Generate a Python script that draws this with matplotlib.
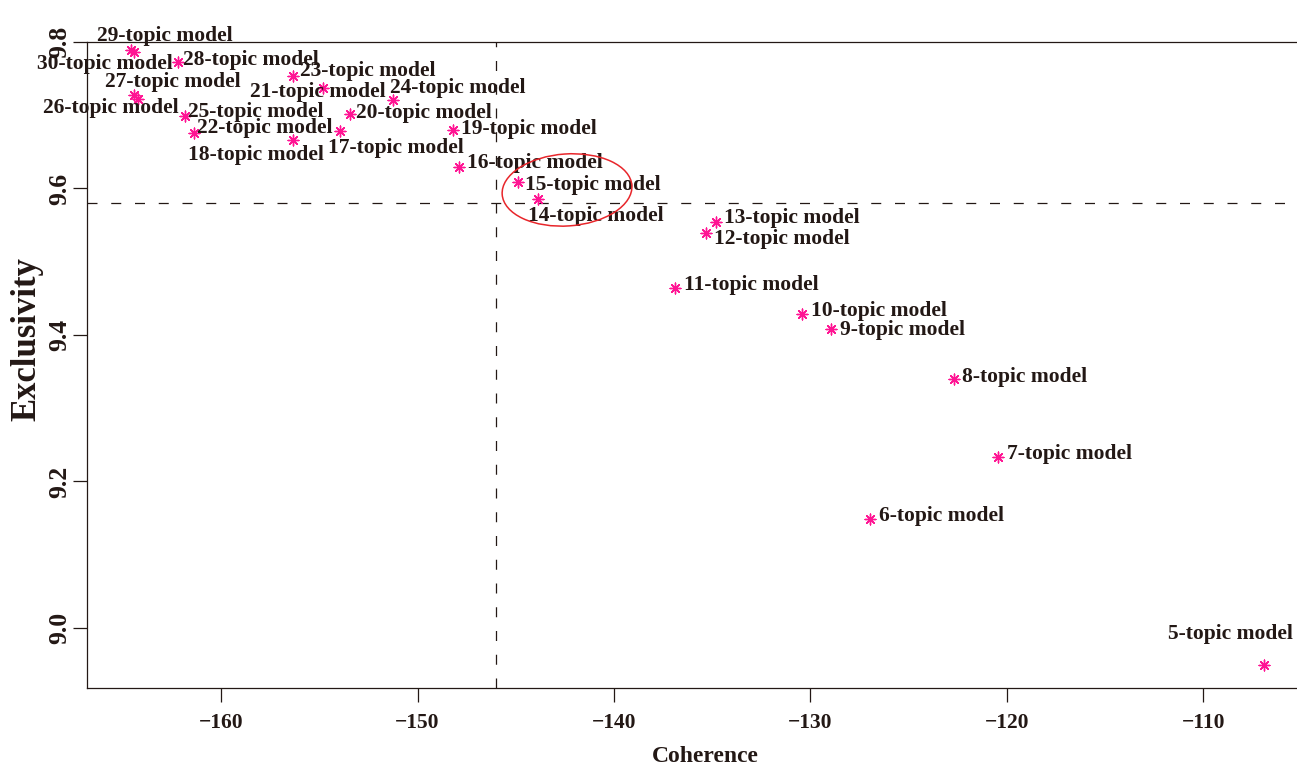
import matplotlib
matplotlib.use('Agg')
import matplotlib.pyplot as plt
import matplotlib.transforms as mtransforms
from matplotlib.patches import Ellipse

# 数据：主题数、语义一致性(Coherence)、排他性(Exclusivity)
topics = [5, 6, 7, 8, 9, 10, 11, 12, 13, 14, 15, 16, 17,
          18, 19, 20, 21, 22, 23, 24, 25, 26, 27, 28, 29, 30]
coherence = [-106.92, -126.97, -120.46, -122.70, -128.96, -130.43, -136.90,
             -135.32, -134.81, -143.87, -144.89, -147.89, -153.94, -156.34,
             -148.19, -153.44, -154.81, -161.37, -156.34, -151.25, -161.83,
             -164.22, -164.43, -162.19, -164.43, -164.58]
exclusivity = [8.9495, 9.149, 9.233, 9.340, 9.408, 9.429, 9.464, 9.539,
               9.554, 9.586, 9.609, 9.629, 9.678, 9.666, 9.680, 9.702,
               9.737, 9.676, 9.754, 9.721, 9.699, 9.722, 9.728, 9.773,
               9.786, 9.789]
x_ticks = [-160, -150, -140, -130, -120, -110]
y_ticks = [9.0, 9.2, 9.4, 9.6, 9.8]
h_cut = 9.58
v_cut = -146.0

# 标签相对点的偏移（像素，右/下为正）
label_offset = {
    5: (-96, -31), 6: (9, -3), 7: (9, -3), 8: (8, -2), 9: (9, 1),
    10: (9, -3), 11: (9, -3), 12: (8, 6), 13: (8, -4), 14: (-10, 17),
    15: (7, 3), 16: (8, -4), 17: (-12, 17), 18: (-105, 15), 19: (8, -1),
    20: (6, -1), 21: (-73, 4), 22: (3, -5), 23: (7, -5), 24: (-3, -12),
    25: (3, -4), 26: (-95, 9), 27: (-29, -13), 28: (5, -2), 29: (-37, -16),
    30: (-94, 14),
}

ink = '#231815'
plt.rcParams['font.family'] = ['Liberation Serif', 'DejaVu Serif']
plt.rcParams['font.weight'] = 'bold'

fig = plt.figure(figsize=(12.97, 7.69), dpi=100)
ax = fig.add_axes([87 / 1297, 1 - 688 / 769, 1 - 87 / 1297, (688 - 42) / 769])

ax.scatter(coherence, exclusivity, marker=(8, 2, 0), s=60, color='#FF1493',
           linewidths=1.0, zorder=3)

for t, cx, cy in zip(topics, coherence, exclusivity):
    dx, dy = label_offset[t]
    ax.annotate(f'{t}-topic model', xy=(cx, cy), xytext=(dx * 0.72, -dy * 0.72),
                textcoords='offset points', ha='left', va='center',
                fontsize=15.5, fontweight='bold', color=ink, zorder=4)

# 分割线
ax.axhline(h_cut, color=ink, lw=0.9, linestyle=(0, (8, 11)), zorder=1)
ax.axvline(v_cut, color=ink, lw=0.9, linestyle=(0, (8, 11)), zorder=1)

# 红色椭圆标注
trans = fig.dpi_scale_trans + mtransforms.ScaledTranslation(-142.39, 9.598, ax.transData)
ax.add_patch(Ellipse((0, 0), width=1.30, height=0.72, angle=4, transform=trans,
                     fill=False, edgecolor='#E8262B', lw=1.1, zorder=5))

ax.set_xlim(-166.82, -105.24)
ax.set_ylim(8.918, 9.8)
ax.set_xticks(x_ticks)
ax.set_xticklabels([f'\u2212{abs(v)}' for v in x_ticks])
ax.set_yticks(y_ticks)
ax.set_yticklabels([f'{v:.1f}' for v in y_ticks], rotation=90, va='center')

for side in ['left', 'bottom', 'top']:
    ax.spines[side].set_color(ink)
    ax.spines[side].set_linewidth(0.9)
ax.spines['right'].set_visible(False)

ax.tick_params(axis='x', length=10, width=0.9, color=ink, labelsize=15.5,
               labelcolor=ink, pad=8)
ax.tick_params(axis='y', length=10, width=0.9, color=ink, labelsize=18.5,
               labelcolor=ink, pad=1)

ax.set_xlabel('Coherence', fontsize=17, fontweight='bold', color=ink)
ax.set_ylabel('Exclusivity', fontsize=25, fontweight='bold', color=ink)
ax.xaxis.set_label_coords(0.511, -0.09)
ax.yaxis.set_label_coords(-0.036, 0.54)

fig.savefig('out.png', dpi=100)
